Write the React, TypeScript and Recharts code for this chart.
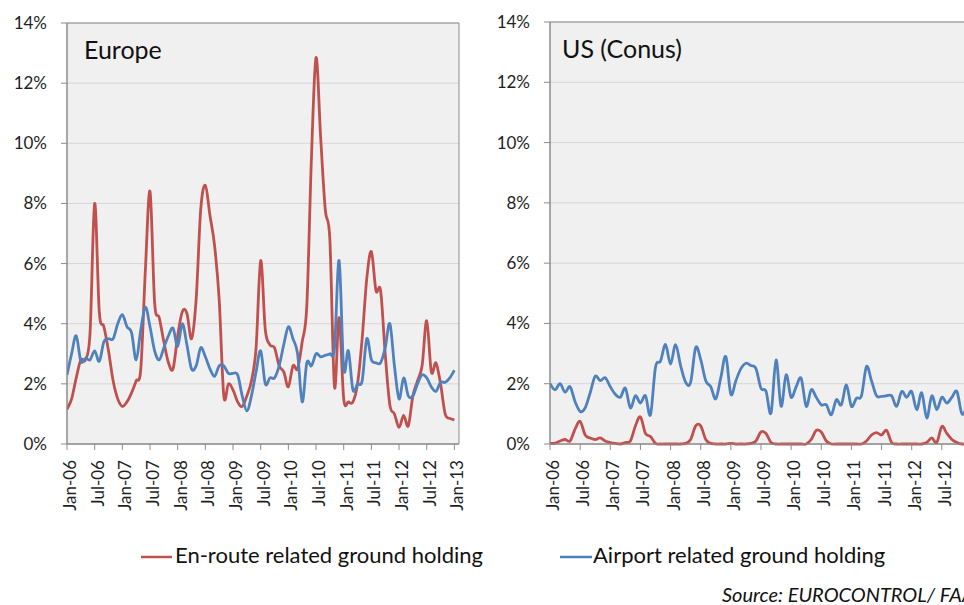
import React from 'react';
import { LineChart, Line, XAxis, YAxis, CartesianGrid, ReferenceArea } from 'recharts';

const tickMonths = [0, 6, 12, 18, 24, 30, 36, 42, 48, 54, 60, 66, 72, 78, 84];
const tickLabels = ['Jan-06', 'Jul-06', 'Jan-07', 'Jul-07', 'Jan-08', 'Jul-08', 'Jan-09', 'Jul-09', 'Jan-10', 'Jul-10', 'Jan-11', 'Jul-11', 'Jan-12', 'Jul-12', 'Jan-13'];
const yTicks = [0, 2, 4, 6, 8, 10, 12, 14];

const euEnroute = [
  1.15, 1.5, 2.2, 2.8, 2.8, 3.7, 8.0, 4.4, 3.9, 3.1,
  2.1, 1.5, 1.25, 1.4, 1.7, 2.1, 2.5, 5.8, 8.4, 4.7,
  4.2, 3.4, 2.7, 2.5, 3.6, 4.4, 4.35, 3.5, 4.8, 7.8,
  8.6, 7.6, 6.6, 4.8, 1.6, 2.0, 1.8, 1.4, 1.25, 1.6,
  2.1, 3.2, 6.1, 3.8, 3.3, 3.2, 2.6, 2.4, 1.9, 2.6,
  2.5, 3.4, 4.6, 9.5, 12.85, 10.2, 7.8, 6.8, 1.9, 4.2,
  1.5, 1.4, 1.4, 2.0, 3.5, 5.5, 6.4, 5.1, 5.1, 3.0,
  1.3, 1.0, 0.55, 0.95, 0.6, 1.6, 2.1, 2.6, 4.1, 2.4,
  2.7, 2.0, 1.0, 0.85, 0.8,
];

const euAirport = [
  2.3, 3.0, 3.6, 2.75, 2.85, 2.8, 3.1, 2.75, 3.4, 3.5,
  3.5, 4.0, 4.3, 3.9, 3.7, 2.8, 3.8, 4.55, 3.9, 3.1,
  2.8, 3.2, 3.6, 3.85, 3.25, 4.0, 3.3, 2.5, 2.6, 3.2,
  2.9, 2.5, 2.25, 2.6, 2.6, 2.35, 2.35, 2.3, 1.6, 1.1,
  1.6, 2.4, 3.1, 2.0, 2.2, 2.2, 2.6, 3.3, 3.9, 3.5,
  3.0, 1.4, 2.7, 2.6, 3.0, 2.9, 2.95, 3.0, 3.2, 6.1,
  2.5, 3.1, 1.8, 2.0, 2.1, 3.5, 2.8, 2.7, 2.7, 3.2,
  4.0, 2.6, 1.5, 2.2, 1.6, 1.6, 2.0, 2.3, 2.2, 1.9,
  1.75, 2.05, 2.05, 2.2, 2.45,
];

const usEnroute = [
  0.02, 0.03, 0.1, 0.15, 0.1, 0.5, 0.75, 0.3, 0.2, 0.15,
  0.2, 0.1, 0.05, 0.02, 0.0, 0.05, 0.1, 0.6, 0.9, 0.35,
  0.25, 0.02, 0.0, 0.0, 0.0, 0.0, 0.0, 0.02, 0.15, 0.6,
  0.6, 0.15, 0.02, 0.0, 0.0, 0.0, 0.02, 0.0, 0.0, 0.0,
  0.02, 0.1, 0.4, 0.35, 0.05, 0.0, 0.0, 0.0, 0.0, 0.0,
  0.0, 0.0, 0.15, 0.45, 0.4, 0.1, 0.0, 0.0, 0.0, 0.0,
  0.0, 0.0, 0.0, 0.1, 0.3, 0.38, 0.3, 0.45, 0.05, 0.0,
  0.0, 0.0, 0.0, 0.0, 0.0, 0.05, 0.2, 0.05, 0.58, 0.35,
  0.15, 0.05, 0.0, 0.0, 0.0,
];

const usAirport = [
  2.0, 1.8, 2.0, 1.72, 1.9, 1.4, 1.08, 1.2, 1.7, 2.25,
  2.1, 2.2, 1.9, 1.65, 1.55, 1.85, 1.2, 1.6, 1.36, 1.6,
  0.97, 2.55, 2.75, 3.3, 2.65, 3.3, 2.6, 2.05, 2.05, 3.2,
  2.8, 2.1, 1.9, 1.5, 2.2, 2.9, 1.65, 2.1, 2.5, 2.68,
  2.6, 2.5, 1.85, 1.75, 1.03, 2.79, 1.25, 2.3, 1.55, 1.9,
  2.18, 1.25, 1.8, 1.55, 1.3, 1.3, 0.97, 1.47, 1.3, 1.96,
  1.25, 1.52, 1.6, 2.57, 2.1, 1.6, 1.58, 1.6, 1.6, 1.25,
  1.74, 1.55, 1.74, 1.14, 1.7, 0.86, 1.6, 1.14, 1.55, 1.36,
  1.55, 1.74, 1.0, 1.2, 1.3,
];

const euData = euEnroute.map((v, i) => ({ i, enroute: v, airport: euAirport[i] }));
const usData = usEnroute.map((v, i) => ({ i, enroute: v, airport: usAirport[i] }));

const FONT = "Lato, 'Open Sans', sans-serif";
const RED = '#c0504d';
const BLUE = '#4f81bd';
const AXIS = '#8c8c8c';

// Excel-like smoothed line: Catmull-Rom spline through every point
const excelSmooth: any = (context: any) => {
  let pts: number[][] = [];
  return {
    areaStart() {},
    areaEnd() {},
    lineStart() { pts = []; },
    point(x: number, y: number) { pts.push([+x, +y]); },
    lineEnd() {
      if (!pts.length) return;
      context.moveTo(pts[0][0], pts[0][1]);
      for (let k = 0; k < pts.length - 1; k++) {
        const p0 = pts[k - 1] || pts[k];
        const p1 = pts[k];
        const p2 = pts[k + 1];
        const p3 = pts[k + 2] || pts[k + 1];
        const c1x = p1[0] + (p2[0] - p0[0]) / 6;
        const c1y = p1[1] + (p2[1] - p0[1]) / 6;
        const c2x = p2[0] - (p3[0] - p1[0]) / 6;
        const c2y = p2[1] - (p3[1] - p1[1]) / 6;
        context.bezierCurveTo(c1x, c1y, c2x, c2y, p2[0], p2[1]);
      }
    },
  };
};

const XTick = (props: any) => {
  const { x, y, payload } = props;
  const idx = tickMonths.indexOf(payload.value);
  const label = idx >= 0 ? tickLabels[idx] : '';
  return (
    <text x={x} y={y} transform={`rotate(-90 ${x} ${y})`} textAnchor="end" dy={9}
      fontSize={17} fill="#1e1e1e" fontFamily={FONT}>{label}</text>
  );
};

const YTick = (props: any) => {
  const { x, y, payload } = props;
  return (
    <text x={x} y={y} textAnchor="end" dy={6} fontSize={17} fill="#1e1e1e" fontFamily={FONT}>
      {`${payload.value}%`}
    </text>
  );
};

function Panel({ data, width, top, right, yWidth }: { data: any[]; width: number; top: number; right: number; yWidth: number }) {
  return (
    <LineChart width={width} height={530} data={data} margin={{ top, right, left: 0, bottom: 0 }}>
      <CartesianGrid vertical={false} stroke="#d6d6d6" fill="#f0f0f0" />
      <XAxis dataKey="i" type="number" domain={[0, 85]} ticks={tickMonths} interval={0}
        height={86} tick={<XTick />} tickSize={6} tickMargin={10}
        axisLine={{ stroke: AXIS }} tickLine={{ stroke: AXIS }} allowDataOverflow />
      <YAxis type="number" domain={[0, 14]} ticks={yTicks} interval={0} width={yWidth}
        tick={<YTick />} tickSize={6} tickMargin={14}
        axisLine={{ stroke: AXIS }} tickLine={{ stroke: AXIS }} />
      <ReferenceArea x1={0} x2={85} y1={0} y2={14} fill="none" stroke={AXIS} strokeWidth={1} />
      <Line type={excelSmooth} dataKey="enroute" stroke={RED} strokeWidth={2.8} dot={false} isAnimationActive={false} />
      <Line type={excelSmooth} dataKey="airport" stroke={BLUE} strokeWidth={2.8} dot={false} isAnimationActive={false} />
    </LineChart>
  );
}

export default function App() {
  return (
    <div style={{ position: 'fixed', left: 0, top: 0, width: 964, height: 605, overflow: 'hidden', background: '#fff' }}>
      <div style={{ position: 'absolute', left: 0, top: 0 }}>
        <Panel data={euData} width={470} top={23} right={11} yWidth={67} />
      </div>
      <div style={{ position: 'absolute', left: 480, top: 0 }}>
        <Panel data={usData} width={500} top={22} right={3} yWidth={70} />
      </div>
      <svg width={964} height={605} style={{ position: 'absolute', left: 0, top: 0, pointerEvents: 'none' }}>
        <text x={84} y={59} fontSize={25} fontFamily={FONT} fill="#111">Europe</text>
        <text x={562} y={58} fontSize={25} fontFamily={FONT} fill="#111">US (Conus)</text>
        <line x1={141} y1={557} x2={172} y2={557} stroke={RED} strokeWidth={2.5} />
        <text x={175} y={563} fontSize={22} fontFamily={FONT} fill="#111">En-route related ground holding</text>
        <line x1={560} y1={557} x2={592} y2={557} stroke={BLUE} strokeWidth={2.5} />
        <text x={593} y={563} fontSize={22} fontFamily={FONT} fill="#111">Airport related ground holding</text>
        <text x={722} y={602} fontSize={20} fontStyle="italic" fontFamily={FONT} fill="#111">Source: EUROCONTROL/ FAA</text>
      </svg>
    </div>
  );
}
